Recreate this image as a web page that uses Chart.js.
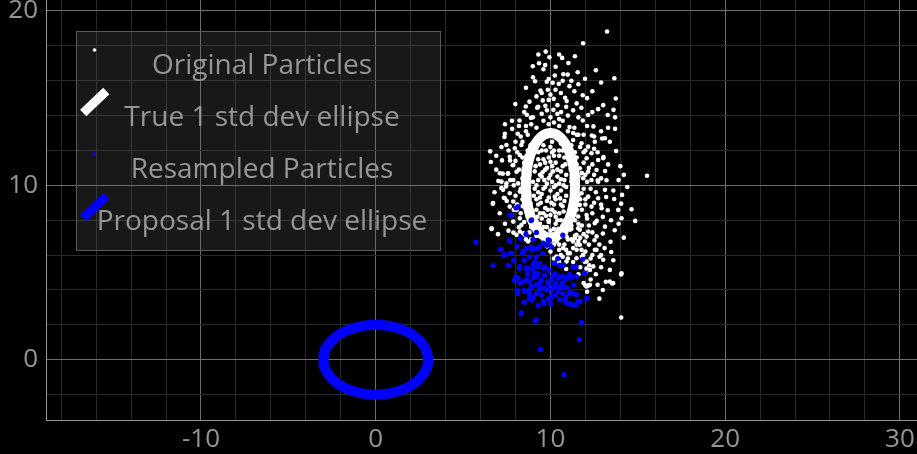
<!DOCTYPE html>
<html>
<head>
<meta charset="utf-8">
<script src="https://cdn.jsdelivr.net/npm/chart.js@4/dist/chart.umd.min.js"></script>
<style>
  html, body { margin: 0; padding: 0; background: #000; overflow: hidden; }
  canvas { display: block; }
</style>
</head>
<body>
<canvas id="chart" width="917" height="454"></canvas>
<script>
// ---- data -------------------------------------------------------------
const legendLabels = ['Original Particles', 'True 1 std dev ellipse', 'Resampled Particles', 'Proposal 1 std dev ellipse'];

const xTickLabels = [-10, 0, 10, 20, 30];
const yTickLabels = [0, 10, 20];
const xRange = [-18.87, 30.98];
const yRange = [-3.46, 20.63];

// mean and 1-sigma half-axes of each distribution
const trueMean = [10, 10];
const trueStd = [1.41, 3.0];
const proposalMean = [0, 0];
const proposalStd = [3.0, 2.0];

const originalParticles = [
  [13.24,18.82],[11.87,18.15],[9.73,17.67],[9.31,17.50],[9.94,17.35],[10.67,17.31],[11.03,17.02],[9.35,17.00],
  [8.99,16.83],[9.60,16.66],[10.74,16.37],[10.99,16.35],[11.56,16.49],[10.25,16.30],[11.98,16.11],[13.66,16.14],
  [9.12,15.97],[9.79,15.94],[10.13,15.88],[10.48,15.82],[9.43,15.44],[9.85,15.48],[10.29,15.48],[11.09,15.69],
  [11.37,15.40],[11.85,15.17],[13.74,14.98],[10.19,14.96],[10.84,15.02],[10.93,14.83],[9.56,14.87],[7.99,14.66],
  [8.59,14.52],[9.24,14.45],[9.71,14.56],[10.17,14.33],[10.61,14.20],[12.73,14.37],[13.02,14.60],[13.61,14.33],
  [13.28,14.03],[11.77,14.45],[12.16,14.03],[8.65,14.05],[8.88,13.87],[8.23,13.72],[7.81,13.24],[7.39,12.96],
  [7.37,12.77],[8.13,12.96],[12.46,13.38],[13.70,13.24],[12.37,12.86],[12.96,12.69],[11.37,13.30],[11.85,13.72],
  [11.09,13.34],[6.55,11.95],[6.59,11.34],[7.23,11.43],[7.69,11.43],[7.84,11.15],[7.27,10.67],[7.56,10.67],
  [7.02,10.25],[7.46,9.94],[7.19,9.85],[7.33,9.29],[6.70,8.95],[8.03,8.76],[6.64,7.50],[7.88,7.29],
  [13.76,11.97],[13.04,11.62],[15.53,10.55],[13.13,10.82],[13.21,10.29],[12.71,10.29],[14.10,9.45],[13.65,9.22],
  [14.05,8.95],[14.64,8.63],[14.85,7.96],[13.19,9.33],[13.28,8.57],[13.00,8.19],[13.47,8.00],[13.68,7.42],
  [12.65,7.96],[13.00,7.23],[12.52,6.85],[13.44,6.76],[13.48,6.18],[12.81,5.90],[14.05,4.89],[13.17,4.47],
  [13.53,4.37],[14.05,2.42],[12.00,4.26],[12.19,4.26],[12.06,5.23],[12.22,5.42],[11.97,5.61],
  [13.12,12.70],[12.54,12.50],[12.16,12.22],[11.78,12.41],[12.35,11.84],[12.07,11.55],[12.73,11.45],[13.02,11.55],
  [11.68,10.98],[12.16,10.78],[12.64,10.88],[11.87,10.41],[12.35,10.31],[12.73,10.21],[13.12,9.74],[12.73,9.26],
  [12.16,9.35],[11.78,9.55],[11.68,8.88],[12.35,8.78],[12.93,8.69],[13.88,8.59],[14.07,8.11],[12.07,8.30],
  [11.59,8.21],[12.54,7.83],[13.12,7.63],[12.16,7.35],[11.59,7.54],[12.64,7.07],[11.97,6.78],[11.40,6.97],
  [12.54,6.30],[11.78,6.30],
  [7.67,11.64],[7.87,11.17],[7.96,12.13],[8.34,12.31],[7.48,12.31],[8.25,11.74],[7.10,10.69],[7.58,10.69],
  [8.06,10.78],[7.20,10.21],[7.48,10.12],[7.87,10.31],[8.15,10.12],[7.29,9.74],[7.67,9.55],[6.72,8.98],
  [7.39,9.26],[7.87,9.07],[8.25,9.64],[7.67,8.78],[8.06,8.59],[8.25,8.11],[7.87,7.92],[6.63,7.54],
  [8.34,7.73],[8.25,7.35],[8.53,7.16],[8.06,7.16],
  [10.35,6.78],[10.92,7.06],[11.30,6.78],[11.68,6.59],[10.73,6.40],[11.11,6.11],[10.35,5.92],[11.87,6.01],
  [11.49,5.82],[12.07,5.63],[10.92,5.63],[12.45,5.35],[13.02,5.73],[12.26,5.15],[12.64,6.30],[13.40,5.15],
  [12.07,4.20],[12.26,4.30],[14.07,4.96],[13.40,4.48],[13.59,4.39],[9.78,7.16],[8.44,7.25],[8.72,6.78],
  [11.68,7.45],[12.07,7.06],[11.11,7.45],[11.49,7.16],
  [9.30,11.90],[9.60,12.30],[10.10,12.50],[10.50,12.00],[9.90,11.60],[9.40,11.20],[10.30,11.30],[10.70,11.10],
  [9.10,10.80],[9.70,10.90],[10.00,10.60],[10.40,10.50],[10.80,10.30],[9.30,10.30],[9.80,10.10],[10.20,9.90],
  [10.60,9.70],[9.10,9.80],[9.50,9.50],[9.90,9.30],[10.30,9.20],[10.80,9.10],[9.30,8.90],[9.70,8.70],
  [10.10,8.60],[10.50,8.40],[9.50,8.10],[9.90,7.90],[10.30,7.80],[10.00,7.40],[9.60,7.60],[10.60,8.00],
  [9.20,9.20],[10.90,9.90],[10.40,10.90],[9.60,11.50],[10.20,12.00],[9.80,12.80],[10.50,11.70],[9.40,10.60],
  [10.10,10.20],[9.00,10.20],[10.70,8.80],[9.40,8.40],[9.80,11.00],[10.30,8.20],[9.70,9.90],[10.50,10.10],
  [11.20,12.30],[11.40,11.90],[11.10,11.50],[11.50,11.20],[11.30,10.80],[11.60,10.50],[11.20,10.20],[11.50,9.90],
  [11.30,9.50],[11.70,9.20],[11.20,9.00],[11.50,8.60],[11.30,8.30],[11.00,7.90],[11.60,7.80],[11.20,7.50],
  [10.90,7.30],[11.40,7.10],[11.00,6.90],[10.60,7.20],[10.40,6.90],[10.80,6.60],[11.30,6.40],[10.50,6.30],
  [11.00,6.10],[10.20,6.60],[10.00,6.20],[11.60,6.80],[11.90,7.20],[12.20,7.70],[12.40,8.40],[12.00,8.90],
  [12.30,9.80],[12.00,10.60],[12.40,11.20],[11.90,11.90],[12.50,12.80],[11.60,12.90],[11.00,13.10],[10.50,13.40],
  [9.90,13.50],[9.20,13.30],[8.70,12.90],[8.40,12.50],[8.70,12.00],[8.50,11.30],[8.80,10.60],[8.50,10.00],
  [8.70,9.40],[8.40,8.80],[8.70,8.20],[8.90,7.60],[9.20,7.10],[9.60,6.90],[9.80,6.50],[8.90,6.90],
  [9.00,13.90],[9.50,14.10],[10.00,13.90],[10.50,13.80],[11.00,14.00],[11.30,14.30],[10.40,14.60],[9.90,14.90],
  [9.20,15.10],[10.60,15.30],[8.60,13.40],[11.90,12.90],
  [8.1,11.9],[8.4,11.6],[8.0,11.4],[8.6,11.0],[8.2,10.9],[8.4,10.4],[7.9,10.0],[8.3,9.8],
  [8.6,9.7],[8.0,9.4],[8.4,9.2],[8.1,8.9],[8.6,8.6],[8.3,8.4],[7.8,8.3],[8.5,7.9],
  [8.2,7.6],[8.8,7.3],[8.6,6.9],[8.3,12.8],[8.0,12.5],[8.6,13.1],[8.2,13.4],[8.9,13.5],
  [7.6,12.0],[7.7,10.3],[7.5,9.1],[7.9,8.6],[8.9,12.3],[8.9,11.6],
  [9.4,12.9],[10.3,13.1],[10.8,12.7],[11.3,13.0],[10.7,13.7],[10.2,13.6],[9.6,13.7],[9.3,14.5],
  [9.8,14.3],[10.4,14.1],[10.9,14.5],[11.5,14.7],[11.6,13.9],[12.1,13.4],[12.4,14.2],[8.8,14.8],
  [9.5,15.3],[10.0,15.2],[10.7,16.0],[11.2,16.0],[10.3,16.8],[9.9,16.1],[8.6,15.6],[11.6,15.8],
  [12.4,15.4],[12.9,15.9],[9.0,16.2],[11.4,17.4],
  [11.3,12.6],[11.7,12.2],[12.0,12.0],[11.5,11.6],[11.9,11.3],[12.2,11.0],[11.4,11.0],[11.8,10.7],
  [11.3,10.4],[12.1,10.2],[11.5,10.0],[11.9,9.8],[12.6,9.6],[11.3,9.7],[11.6,9.4],[12.0,9.2],
  [12.5,9.0],[11.4,8.9],[11.8,8.6],[12.1,8.1],[11.4,8.0],[11.8,7.7],[12.4,7.3],[11.2,7.7],
  [11.7,7.0],[12.2,6.6],[12.8,6.6],[12.0,6.2],[11.5,6.3],[12.9,8.9],[12.9,10.4],[12.5,10.6],
  [12.7,11.9],[13.3,11.2],[12.5,12.1],[11.5,12.9],[12.9,13.1],[13.4,12.5],[13.9,10.3],[14.2,10.6],
  [13.6,9.7],[13.9,7.8],[14.2,7.0],[12.9,6.0],
  [10.1,7.0],[10.5,6.6],[10.9,6.3],[11.2,6.9],[11.5,6.6],[10.7,5.9],[11.3,5.6],[11.7,5.3],
  [12.0,5.0],[11.6,4.9],[10.9,5.2],[10.5,5.6],[12.3,5.8],[12.6,4.9],[12.3,4.6],[11.9,4.4],
  [11.8,5.9],[11.0,5.8],[10.2,5.8],[10.6,6.0],[12.4,6.0],[12.9,5.3],[12.7,4.3],[12.1,3.9],
  [9.2,12.4],[9.5,12.0],[10.0,12.2],[10.6,12.4],[10.8,11.6],[10.2,11.7],[9.3,11.5],[9.7,11.3],
  [10.1,11.1],[10.6,10.8],[9.5,10.5],[9.9,10.4],[10.3,10.0],[10.9,10.6],[9.2,10.0],[9.6,9.8],
  [10.0,9.7],[10.4,9.5],[10.9,9.4],[9.4,9.3],[9.8,9.1],[10.2,8.9],[10.6,8.9],[9.2,8.6],
  [9.6,8.4],[10.0,8.3],[10.4,8.0],[9.8,7.6],[10.2,7.5],[9.4,7.8],[10.7,7.7],[10.1,11.9],[9.9,8.0],
  [9.35,12.6],[9.75,12.0],[10.35,12.7],[10.7,12.0],[9.15,11.1],[9.55,10.75],[10.15,10.8],[10.75,10.0],
  [9.05,9.4],[9.45,9.0],[10.05,9.0],[10.55,9.25],[9.25,8.2],[9.75,8.25],[10.25,8.45],[10.75,8.5],
  [9.55,7.3],[10.45,7.5],[9.95,7.1],[10.85,11.2],[9.2,12.0],[10.0,11.35],[9.65,10.3],[10.6,10.35],
  [10.25,9.35],[9.85,8.6],[9.3,9.6],[10.85,8.0],
  [6.9,10.9],[6.8,9.6],[7.1,8.4],[7.4,7.8],[7.0,7.2],[7.6,7.4],[6.9,11.7],[7.2,12.2],
  [7.8,13.7],[7.4,13.5],[8.5,14.2],[9.7,16.9],[10.5,17.5],[12.6,16.6],[12.1,15.0],[13.3,13.3],
  [13.7,13.9],[14.0,11.1],[14.4,9.9],[13.1,6.4],[13.6,5.7],[12.8,3.5],[13.0,4.0]
];

const resampledParticles = [
  [5.73,6.74],[6.72,5.40],[7.14,6.32],[7.33,5.97],[7.71,6.09],[7.65,6.85],[7.69,8.28],[8.03,8.70],
  [8.89,7.98],[8.32,2.63],[9.12,2.21],[9.43,0.59],[10.78,-0.86],[11.66,1.15],[11.77,2.10],[12.06,3.51],
  [11.47,3.13],[11.58,3.32],[11.15,3.21],[10.86,3.45],[9.60,3.24],[8.93,3.42],[8.80,3.51],[8.13,3.80],
  [8.10,3.99],[7.94,4.56],[8.03,4.75],[8.23,5.23],[8.61,5.23],[8.99,5.17],[9.29,4.94],[8.80,4.47],
  [8.42,4.47],[9.47,4.56],[9.85,4.47],[10.10,4.75],[10.52,4.75],[10.86,4.66],[11.24,4.75],[11.47,5.32],
  [11.28,5.32],[11.09,4.90],[10.50,4.18],[10.36,4.14],[10.06,3.99],[9.83,3.99],[11.09,3.80],[10.71,3.80],
  [9.89,3.47],[8.82,3.99],[8.38,6.09],[8.61,6.37],[8.89,6.47],[9.14,6.37],[9.37,6.47],[9.56,6.09],
  [9.79,6.56],[9.94,6.85],[10.06,6.47],[9.18,5.90],[9.37,5.52],[9.66,5.32],[9.94,5.13],[10.23,5.52],
  [10.42,5.80],[10.52,5.42],[10.75,5.42],[10.71,7.14],[8.28,6.95],[11.85,5.76],[11.95,4.94],[10.25,4.94],
  [9.66,4.85],[9.08,4.94],[10.17,4.18],[9.39,4.08],[10.92,4.14],[11.34,4.28],[10.84,3.40],[11.28,3.80],
  [8.48,3.99],[7.20,6.30],[7.39,6.01],[7.77,6.11],[7.67,6.78],[7.77,8.30],[8.15,8.78],[8.92,8.02],
  [8.44,6.21],[8.92,6.30],[9.30,6.40],[9.58,6.68],[9.87,6.87],[8.25,5.35],[8.72,5.25],[9.01,5.44],
  [9.30,5.35],[9.58,5.25],[8.15,4.68],[8.63,4.58],[9.20,4.77],[10.06,4.58],[10.44,4.68],[10.73,4.77],
  [11.11,4.68],[11.49,4.77],[11.97,4.96],[8.25,4.39],[9.39,4.39],[10.44,3.91],[10.63,4.20],[11.11,3.91],
  [11.49,3.72],[11.68,3.34],[12.07,3.53],[8.82,3.72],[9.01,3.53],[9.58,3.34],[10.06,3.63],[10.54,3.44],
  [10.92,3.25],[11.21,3.15],[8.34,2.68],[9.20,2.29],[11.78,2.14],
  [8.5,5.7],[8.8,5.9],[9.1,5.6],[8.7,4.9],[9.0,4.7],[8.9,4.2],[9.2,4.3],[9.6,4.1],
  [9.9,4.3],[10.3,4.4],[10.7,4.4],[8.6,3.9],[9.2,3.8],[9.5,3.7],[10.3,3.7],
  [10.9,3.6],[8.5,3.3],[9.3,3.1],[10.0,3.2],[9.0,6.9],[9.2,7.3],[8.6,7.2],
  [8.1,6.5],[7.9,5.7],[7.6,5.4]
];

// ---- helpers -------------------------------------------------------------
const toPoints = arr => arr.map(([x, y]) => ({ x, y }));

// closed outline of a 1-sigma ellipse around a mean
function ellipseOutline(mean, std, steps = 120) {
  const pts = [];
  for (let i = 0; i <= steps; i++) {
    const t = (2 * Math.PI * i) / steps;
    pts.push({ x: mean[0] + std[0] * Math.cos(t), y: mean[1] + std[1] * Math.sin(t) });
  }
  return pts;
}

const TEXT_COLOR = '#969696';
const FONT_FAMILY = "'Open Sans', 'Noto Sans', 'DejaVu Sans', sans-serif";
const MAJOR_GRID = '#6e6e6e';
const MINOR_GRID = '#2a2a2a';

const gridColor = ctx => {
  const v = ctx.tick ? ctx.tick.value : NaN;
  return Math.abs(v % 10) < 1e-9 ? MAJOR_GRID : MINOR_GRID;
};

// black canvas background
const backgroundPlugin = {
  id: 'background',
  beforeDraw(chart) {
    const { ctx, width, height } = chart;
    ctx.save();
    ctx.fillStyle = '#000';
    ctx.fillRect(0, 0, width, height);
    ctx.restore();
  }
};

// legend panel in the upper-left corner of the plot
const legendPanelPlugin = {
  id: 'legendPanel',
  afterDraw(chart) {
    const { ctx } = chart;
    const box = { left: 76.5, top: 31.5, width: 364, height: 219 };
    const rowBaseline = [74, 126, 178, 230];
    const textCenter = 262;
    ctx.save();
    ctx.fillStyle = 'rgba(100,100,100,0.24)';
    ctx.fillRect(box.left, box.top, box.width, box.height);
    ctx.strokeStyle = '#5a5a5a';
    ctx.lineWidth = 1;
    ctx.strokeRect(box.left, box.top, box.width, box.height);

    const ds = chart.data.datasets;
    const swatch = [
      { kind: 'dot', color: ds[0].backgroundColor, y: 50, r: 1.8 },
      { kind: 'bar', color: ds[1].borderColor, y: 102 },
      { kind: 'dot', color: ds[2].backgroundColor, y: 154, r: 1.8 },
      { kind: 'bar', color: ds[3].borderColor, y: 207 }
    ];
    swatch.forEach(s => {
      if (s.kind === 'dot') {
        ctx.fillStyle = s.color;
        ctx.beginPath();
        ctx.arc(94.5, s.y, s.r, 0, Math.PI * 2);
        ctx.fill();
      } else {
        ctx.strokeStyle = s.color;
        ctx.lineWidth = 9;
        ctx.lineCap = 'butt';
        ctx.beginPath();
        ctx.moveTo(83.2, s.y + 11);
        ctx.lineTo(106.3, s.y - 11);
        ctx.stroke();
      }
    });

    ctx.fillStyle = TEXT_COLOR;
    ctx.font = `28px ${FONT_FAMILY}`;
    ctx.textAlign = 'center';
    ctx.textBaseline = 'alphabetic';
    legendLabels.forEach((label, i) => ctx.fillText(label, textCenter, rowBaseline[i]));
    ctx.restore();
  }
};

new Chart(document.getElementById('chart'), {
  type: 'scatter',
  data: {
    datasets: [
      {
        label: legendLabels[0],
        data: toPoints(originalParticles),
        backgroundColor: '#ffffff',
        borderWidth: 0,
        pointRadius: 2.3,
        order: 4
      },
      {
        label: legendLabels[1],
        data: ellipseOutline(trueMean, trueStd),
        showLine: true,
        borderColor: '#ffffff',
        borderWidth: 10,
        borderJoinStyle: 'round',
        pointRadius: 0,
        tension: 0,
        order: 3
      },
      {
        label: legendLabels[2],
        data: toPoints(resampledParticles),
        backgroundColor: '#0000ff',
        borderWidth: 0,
        pointRadius: 2.6,
        order: 2
      },
      {
        label: legendLabels[3],
        data: ellipseOutline(proposalMean, proposalStd),
        showLine: true,
        borderColor: '#0000ff',
        borderWidth: 10,
        borderJoinStyle: 'round',
        pointRadius: 0,
        tension: 0,
        order: 1
      }
    ]
  },
  options: {
    responsive: false,
    animation: false,
    devicePixelRatio: 1,
    layout: { padding: 0, autoPadding: false },
    events: [],
    plugins: { legend: { display: false }, tooltip: { enabled: false } },
    scales: {
      x: {
        type: 'linear',
        position: 'bottom',
        min: xRange[0],
        max: xRange[1],
        ticks: {
          stepSize: 2,
          autoSkip: false,
          includeBounds: false,
          maxRotation: 0,
          padding: 4,
          color: TEXT_COLOR,
          font: { family: FONT_FAMILY, size: 26 },
          callback: v => (xTickLabels.includes(v) ? String(v) : '')
        },
        grid: { color: gridColor, drawTicks: false, lineWidth: 1 },
        border: { color: TEXT_COLOR, width: 1 },
        afterFit(scale) {
          scale.height = 34;
          scale.paddingLeft = 0;
          scale.paddingRight = 0;
        }
      },
      y: {
        type: 'linear',
        position: 'left',
        min: yRange[0],
        max: yRange[1],
        ticks: {
          stepSize: 2,
          autoSkip: false,
          includeBounds: false,
          padding: 8,
          color: TEXT_COLOR,
          font: { family: FONT_FAMILY, size: 26 },
          callback: v => (yTickLabels.includes(v) ? String(v) : '')
        },
        grid: { color: gridColor, drawTicks: false, lineWidth: 1 },
        border: { color: TEXT_COLOR, width: 1 },
        afterFit(scale) {
          scale.width = 46;
          scale.paddingTop = 0;
          scale.paddingBottom = 0;
        }
      }
    }
  },
  plugins: [backgroundPlugin, legendPanelPlugin]
});
</script>
</body>
</html>
